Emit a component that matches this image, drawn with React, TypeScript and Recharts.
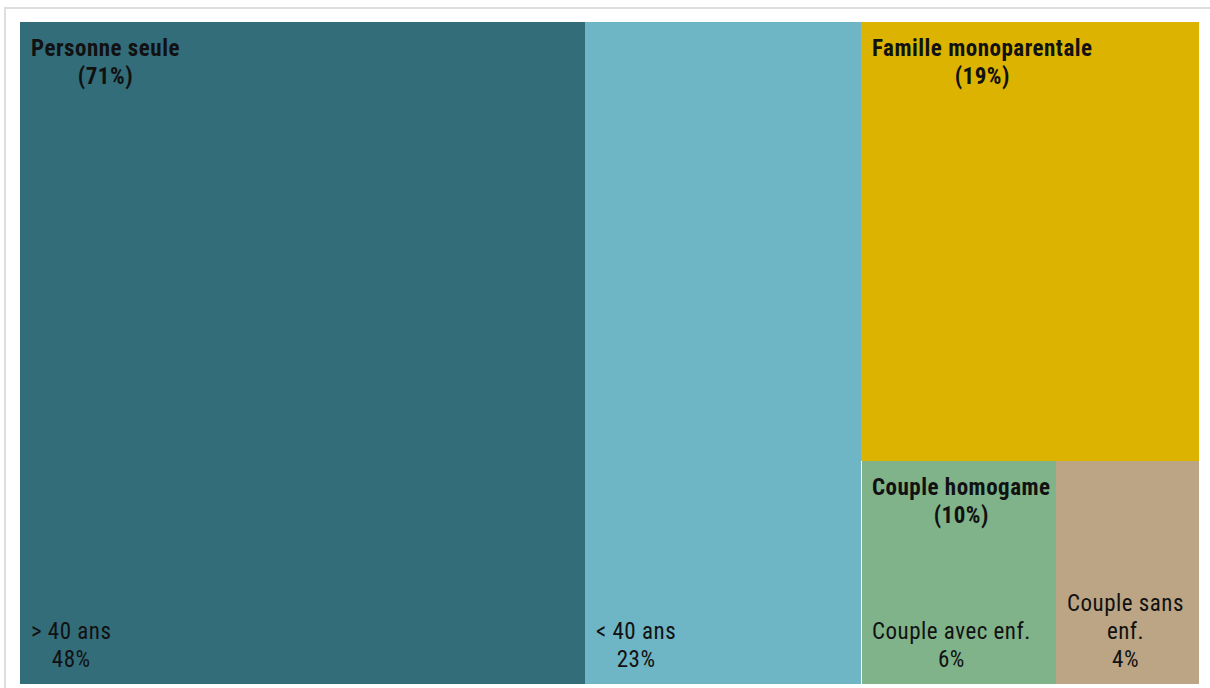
import React from "react";
import { Treemap } from "recharts";

// household types, share of total (%)
const groupNames = ["Personne seule", "Famille monoparentale", "Couple homogame"];
const groupColors = ["#336d7a", "#dbb300", "#80b389"];
const familleShare = 19.0;

// sub-categories per group (empty = group drawn as one block)
const subNames = [["> 40 ans", "< 40 ans"], [], ["Couple avec enf.", "Couple sans enf."]];
const subShares = [[47.9, 23.4], [], [5.6, 4.1]];
const subColors = [["#336d7a", "#6eb5c5"], [], ["#80b389", "#bba585"]];

const FONT = "'Roboto Condensed', 'Liberation Sans Narrow', 'DejaVu Sans Condensed', Roboto, sans-serif";
const FS = 23;
const LINE = 28;
const SPACING = 0.5;

const treeData = groupNames.map((name, i) =>
  subNames[i].length
    ? {
        name,
        color: groupColors[i],
        children: subNames[i].map((s, j) => ({ name: s, size: subShares[i][j], color: subColors[i][j] })),
      }
    : { name, size: familleShare, color: groupColors[i] }
);

let ctx: CanvasRenderingContext2D | null = null;
function textWidth(t: string, bold: boolean) {
  if (!ctx) ctx = document.createElement("canvas").getContext("2d");
  if (!ctx) return t.length * FS * 0.47;
  ctx.font = `${bold ? "bold " : ""}${FS}px ${FONT}`;
  return ctx.measureText(t).width + SPACING * t.length;
}

function wrap(t: string, maxW: number, bold: boolean) {
  const words = t.split(" ");
  const lines: string[] = [];
  let cur = "";
  words.forEach((w) => {
    const next = cur ? cur + " " + w : w;
    if (cur && textWidth(next, bold) > maxW) {
      lines.push(cur);
      cur = w;
    } else cur = next;
  });
  if (cur) lines.push(cur);
  return lines;
}

function Block({ x, y, lines, bold, anchorBottom }: any) {
  const widths = lines.map((l: string) => textWidth(l, bold));
  const bw = Math.max(...widths);
  const cx = x + bw / 2;
  return (
    <g>
      {lines.map((l: string, k: number) => (
        <text
          key={k}
          x={cx}
          y={anchorBottom ? y - (lines.length - 1 - k) * LINE : y + k * LINE}
          textAnchor="middle"
          fontFamily={FONT}
          fontSize={FS}
          fontWeight={bold ? 700 : 400}
          letterSpacing={SPACING}
          fill="#111"
        >
          {l}
        </text>
      ))}
    </g>
  );
}

function groupLabel(node: any) {
  const lines = wrap(node.name, node.width - 20, true);
  lines.push(`(${Math.round(node.value)}%)`);
  return <Block x={node.x + 11} y={node.y + 34} lines={lines} bold />;
}

function NodeContent(props: any) {
  const { x, y, width, height, depth, root, index, color, name, value } = props;
  if (depth === 0) return null;
  if (depth === 1) {
    if (props.children && props.children.length) return null;
    return (
      <g>
        <rect x={x} y={y} width={width} height={height} fill={color} stroke="none" />
        {groupLabel(props)}
      </g>
    );
  }
  const isLast = root && root.children && index === root.children.length - 1;
  const lines = wrap(name, width - 20, false);
  lines.push(`${Math.round(value)}%`);
  return (
    <g>
      <rect x={x} y={y} width={width} height={height} fill={color} stroke="none" />
      {index === 0 && root.x > 0 ? (
        <line x1={x + 0.5} y1={y} x2={x + 0.5} y2={y + height} stroke="#fff" strokeWidth={1} />
      ) : null}
      <Block x={x + 11} y={y + height - 17} lines={lines} anchorBottom />
      {isLast ? groupLabel(root) : null}
    </g>
  );
}

export default function App() {
  return (
    <div
      style={{
        position: "absolute",
        left: 4,
        top: 7,
        width: 1230,
        height: 700,
        border: "2px solid #dedede",
        background: "#fff",
      }}
    >
      <div style={{ position: "absolute", left: 14, top: 13 }}>
        <Treemap
          width={1179}
          height={662}
          data={treeData}
          dataKey="size"
          nameKey="name"
          isAnimationActive={false}
          content={(p: any) => <NodeContent {...p} />}
        />
      </div>
    </div>
  );
}
